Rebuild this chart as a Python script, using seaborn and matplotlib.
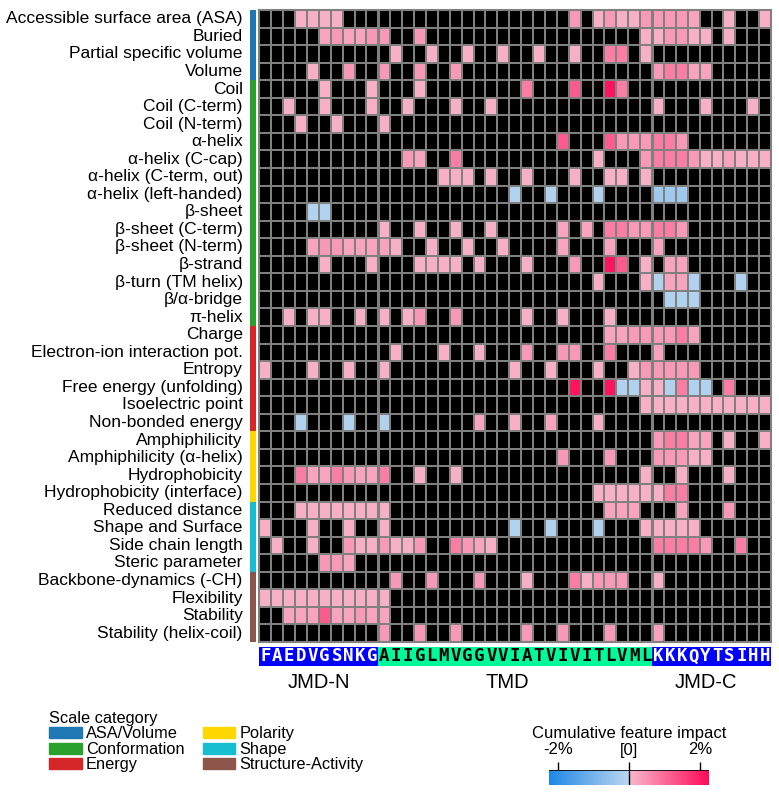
import numpy as np
import pandas as pd
import seaborn as sns
import matplotlib.pyplot as plt
from matplotlib.colors import LinearSegmentedColormap, ListedColormap, Normalize
from matplotlib.cm import ScalarMappable
from matplotlib.patches import Patch

# ==========================================
# DATA
# ==========================================
JMD_N = "FAEDVGSNKG"
TMD = "AIIGLMVGGVVIATVIVITLVML"
JMD_C = "KKKQYTSIHH"
PART_LABELS = ["JMD-N", "TMD", "JMD-C"]

CAT_NAMES = ["ASA/Volume", "Conformation", "Energy", "Polarity", "Shape", "Structure-Activity"]
CAT_COLORS = ["#1f77b4", "#2ca02c", "#d62728", "#FFD700", "#17becf", "#8c564b"]

FEAT_ASA_VOLUME = ["Accessible surface area (ASA)", "Buried", "Partial specific volume", "Volume"]
FEAT_CONFORMATION = ["Coil", "Coil (C-term)", "Coil (N-term)", "α-helix", "α-helix (C-cap)",
                     "α-helix (C-term, out)", "α-helix (left-handed)", "β-sheet", "β-sheet (C-term)",
                     "β-sheet (N-term)", "β-strand", "β-turn (TM helix)", "β/α-bridge", "π-helix"]
FEAT_ENERGY = ["Charge", "Electron-ion interaction pot.", "Entropy", "Free energy (unfolding)",
               "Isoelectric point", "Non-bonded energy"]
FEAT_POLARITY = ["Amphiphilicity", "Amphiphilicity (α-helix)", "Hydrophobicity", "Hydrophobicity (interface)"]
FEAT_SHAPE = ["Reduced distance", "Shape and Surface", "Side chain length", "Steric parameter"]
FEAT_STRUCT = ["Backbone-dynamics (-CH)", "Flexibility", "Stability", "Stability (helix-coil)"]

# impact levels (%)
L, LM, M, S, R, D = 0.1, 0.25, 0.4, 0.75, 1.2, 2.1
B, BM = -0.15, -0.4

# per feature: (residue position, impact)
IMP_ASA_VOLUME = [
    [(3, L), (4, L), (5, L), (6, L), (26, M), (28, L), (29, M), (30, L), (31, L), (32, M), (33, M), (34, M),
     (35, M), (36, LM), (39, L), (42, L)],
    [(5, LM), (6, M), (7, LM), (8, LM), (9, M), (10, M), (13, M), (32, L), (33, L), (34, M), (35, M),
     (36, L), (37, L), (39, L)],
    [(11, L), (14, L), (17, L), (20, L), (23, L), (26, L), (29, S), (30, S), (32, L)],
    [(4, L), (7, M), (10, M), (13, M), (16, M), (33, M), (34, S), (35, S), (36, LM), (37, LM)],
]
IMP_CONFORMATION = [
    [(5, L), (9, L), (13, L), (22, S), (26, R), (29, D), (30, S)],
    [(2, L), (5, L), (9, L), (12, L), (16, L), (19, L), (33, L), (37, L), (41, L)],
    [(3, L), (6, L), (10, L)],
    [(25, R), (29, R), (30, M), (31, M), (32, M), (33, S), (34, S), (35, M)],
    [(12, M), (13, LM), (16, S), (28, L), (32, M), (33, S), (34, S), (35, S), (36, M), (37, L), (38, L),
     (39, LM), (40, L), (41, L), (42, L)],
    [(15, L), (16, L), (17, L), (19, L), (22, L), (26, L), (29, L), (30, L), (32, L)],
    [(21, B), (24, B), (28, B), (33, BM), (34, BM), (35, BM)],
    [(4, B), (5, B)],
    [(10, L), (13, L), (16, L), (19, L), (25, LM), (27, LM), (29, S), (30, S), (31, M), (32, M), (33, S),
     (34, S), (35, M)],
    [(4, LM), (5, M), (6, M), (7, LM), (8, LM), (9, LM), (10, LM), (11, L), (14, L), (17, L), (20, L),
     (25, LM), (29, LM), (33, LM)],
    [(5, L), (9, L), (13, L), (14, L), (15, L), (16, L), (18, L), (22, L), (26, M), (29, D), (30, R),
     (32, L), (34, LM), (35, LM)],
    [(28, L), (32, L), (33, B), (34, LM), (35, LM), (36, B), (40, B)],
    [(34, B), (35, B), (36, B)],
    [(2, L), (4, L), (5, L), (8, L), (10, L), (12, L), (13, M), (16, M), (22, L), (25, L), (29, L)],
]
IMP_ENERGY = [
    [(29, LM), (30, LM), (31, M), (32, M), (33, M), (34, M), (35, S), (36, LM)],
    [(11, L), (15, L), (18, L), (22, M), (25, M), (26, M), (29, S), (33, LM)],
    [(0, L), (4, L), (7, L), (10, L), (21, L), (24, L), (28, L), (31, L), (32, M), (33, M), (34, M),
     (35, M), (36, M)],
    [(26, D), (29, D), (30, B), (31, B), (32, L), (33, L), (34, B), (35, S), (36, B), (37, B), (39, S)],
    [(32, L), (33, L), (34, L), (35, L), (36, L), (37, L), (38, L), (39, L), (40, L), (41, L), (42, L)],
    [(3, B), (7, B), (10, B), (18, LM), (21, L), (24, LM), (28, L)],
]
IMP_POLARITY = [
    [(33, M), (34, S), (35, S), (36, LM), (37, LM), (39, L), (42, L)],
    [(25, M), (29, M), (33, M), (34, M), (35, M), (36, L), (37, L)],
    [(3, S), (4, LM), (5, LM), (6, S), (7, M), (8, LM), (9, LM), (10, S), (13, L), (16, L), (32, L),
     (35, L), (39, L)],
    [(28, L), (29, L), (30, L), (31, L), (32, L), (33, L), (34, S), (35, S)],
]
IMP_SHAPE = [
    [(3, L), (4, L), (5, L), (6, L), (7, L), (8, L), (9, L), (10, L), (29, LM), (30, LM), (31, LM),
     (35, LM), (39, M)],
    [(0, L), (4, L), (7, L), (10, L), (21, B), (24, B), (28, B), (32, L), (33, L), (34, L), (35, L), (36, L)],
    [(1, L), (4, L), (7, M), (8, L), (9, L), (10, M), (11, L), (12, L), (13, M), (16, S), (17, M),
     (18, LM), (19, L), (33, S), (34, S), (35, S), (36, S), (37, M), (40, S)],
    [(5, M), (6, M), (7, LM)],
]
IMP_STRUCT = [
    [(11, M), (14, M), (18, M), (22, L), (26, S), (27, L), (28, M), (29, M), (30, M), (33, L)],
    [(0, L), (1, L), (2, L), (3, L), (4, L), (5, L), (6, L), (7, L), (8, L), (9, L), (10, L)],
    [(2, LM), (3, LM), (4, LM), (5, R), (6, LM), (7, LM), (8, M), (9, LM), (10, LM)],
    [(10, M), (13, M), (16, M), (22, M), (25, M), (29, M), (33, LM)],
]

# ==========================================
# BUILD TABLES
# ==========================================
groups = [FEAT_ASA_VOLUME, FEAT_CONFORMATION, FEAT_ENERGY, FEAT_POLARITY, FEAT_SHAPE, FEAT_STRUCT]
impacts = [IMP_ASA_VOLUME, IMP_CONFORMATION, IMP_ENERGY, IMP_POLARITY, IMP_SHAPE, IMP_STRUCT]

sequence = JMD_N + TMD + JMD_C
features = [f for g in groups for f in g]
df = pd.DataFrame(0.0, index=features, columns=range(len(sequence)))
cat_codes = []
for ci, (feats, imps) in enumerate(zip(groups, impacts)):
    for feat, cells in zip(feats, imps):
        for pos, val in cells:
            df.loc[feat, pos] = val
        cat_codes.append(ci)

VMAX = 2.25
cmap = LinearSegmentedColormap.from_list(
    "cpp", [(0.0, "#1E88E5"), (0.4999, "#BBD7EF"), (0.5, "#F7B8CB"), (1.0, "#FF0A57")])

sns.set_style("white")
plt.rcParams['font.family'] = ['Liberation Sans', 'DejaVu Sans']
plt.rcParams['text.color'] = 'black'
plt.rcParams['xtick.color'] = 'black'
plt.rcParams['ytick.color'] = 'black'
plt.rcParams['axes.labelcolor'] = 'black'

W, H = 779, 795
fig = plt.figure(figsize=(W / 100, H / 100), dpi=100)


def box(x0, y0, x1, y1):
    return [x0 / W, 1 - y1 / H, (x1 - x0) / W, (y1 - y0) / H]


GRID = "#808080"
ax = fig.add_axes(box(259.3, 10, 771, 642))
sns.heatmap(np.zeros(df.shape), cmap=ListedColormap(["black"]), cbar=False,
            linewidths=1.2, linecolor=GRID, ax=ax)
sns.heatmap(df, mask=(df == 0), cmap=cmap, vmin=-VMAX, vmax=VMAX, cbar=False,
            linewidths=1.2, linecolor=GRID, ax=ax, xticklabels=False, yticklabels=features)
for x in (len(JMD_N), len(JMD_N) + len(TMD)):
    ax.axvline(x, color=GRID, lw=2.2)
for sp in ax.spines.values():
    sp.set_visible(True)
    sp.set_color(GRID)
    sp.set_linewidth(1.5)
ax.tick_params(axis="y", length=0, pad=12, labelsize=12.5, rotation=0, labelcolor="black")
ax.set_xlabel("")
ax.set_ylabel("")

# category strip
cat_ax = fig.add_axes(box(250, 10, 256, 642))
sns.heatmap(np.array(cat_codes).reshape(-1, 1), cmap=ListedColormap(CAT_COLORS), vmin=-0.5,
            vmax=len(CAT_COLORS) - 0.5, cbar=False, ax=cat_ax, xticklabels=False, yticklabels=False)

# sequence strip
seq_ax = fig.add_axes(box(259.3, 646.7, 771, 666))
part_codes = [0] * len(JMD_N) + [1] * len(TMD) + [0] * len(JMD_C)
sns.heatmap(np.array(part_codes).reshape(1, -1), cmap=ListedColormap(["#0000FF", "#00FA9A"]),
            cbar=False, ax=seq_ax, annot=np.array(list(sequence)).reshape(1, -1), fmt="",
            annot_kws=dict(fontsize=12.5, fontweight="bold", family="DejaVu Sans Mono"),
            yticklabels=False)
for t in seq_ax.texts:
    t.set_color("white" if t.get_color() in ("w", "white") else "black")
seq_ax.set_xticks([5, 20.8, 37.5])
seq_ax.set_xticklabels(PART_LABELS, fontsize=14.5, rotation=0)
seq_ax.tick_params(axis="x", length=0, pad=5, labelcolor="black")

# category legend
handles = [Patch(color=c) for c in CAT_COLORS]
leg = fig.legend(handles, CAT_NAMES, ncol=2, loc="upper left", bbox_to_anchor=(49 / W, 1 - 711 / H),
                 title="Scale category", frameon=False, fontsize=11.8, title_fontsize=11.8,
                 handlelength=2.0, handleheight=0.7, labelspacing=0.03, columnspacing=1.1,
                 handletextpad=0.25, alignment="left", borderaxespad=0, borderpad=0)

# colorbar
cax = fig.add_axes(box(549.3, 770, 709.3, 785))
sm = ScalarMappable(norm=Normalize(-VMAX, VMAX), cmap=cmap)
cbar = fig.colorbar(sm, cax=cax, orientation="horizontal", ticks=[-2, 0, 2])
cbar.outline.set_visible(False)
cax.xaxis.set_ticks_position("top")
cax.xaxis.set_label_position("top")
cax.set_xticklabels(["-2%", "[0]", "2%"], fontsize=12)
cax.tick_params(axis="x", length=6, width=1, pad=3, labelcolor="black")
cax.axvline(0, color="black", lw=1)
cax.axhline(1, color="black", lw=1.2)
cbar.set_label("Cumulative feature impact", fontsize=12, labelpad=3)

plt.savefig("out.png", dpi=100)
